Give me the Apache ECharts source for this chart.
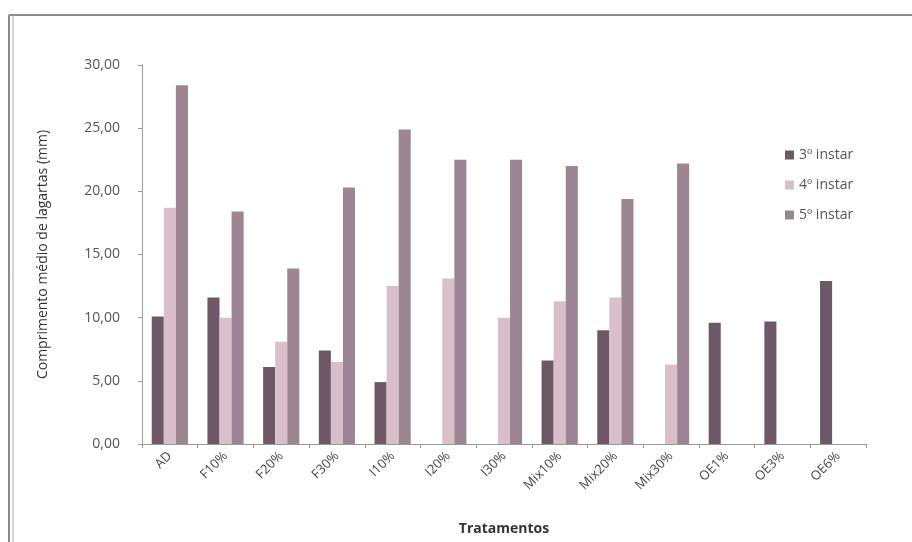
<!DOCTYPE html>
<html><head><meta charset="utf-8">
<script src="https://cdn.jsdelivr.net/npm/echarts@6/dist/echarts.min.js"></script>
<style>html,body{margin:0;padding:0;background:#fff}#c{width:912px;height:542px}</style>
</head><body><div id="c"></div>
<script>
const categories = ['AD','F10%','F20%','F30%','I10%','I20%','I30%','Mix10%','Mix20%','Mix30%','OE1%','OE3%','OE6%'];
const instar3 = [10.1, 11.6, 6.1, 7.4, 4.9, 0, 0, 6.6, 9.0, 0, 9.6, 9.7, 12.9];
const instar4 = [18.7, 10.0, 8.1, 6.5, 12.5, 13.1, 10.0, 11.3, 11.6, 6.3, 0, 0, 0];
const instar5 = [28.4, 18.4, 13.9, 20.3, 24.9, 22.5, 22.5, 22.0, 19.4, 22.2, 0, 0, 0];
const seriesNames = ['3º instar','4º instar','5º instar'];
const yTicks = [0, 5, 10, 15, 20, 25, 30];

const chart = echarts.init(document.getElementById('c'));
const font = '"Open Sans", "DejaVu Sans", sans-serif';
const colors = ['#6e5868', '#d9bfc9', '#9d8593'];
chart.setOption({
  animation: false,
  backgroundColor: '#fff',
  color: colors,
  textStyle: {fontFamily: font},
  grid: {left: 142, right: 46, top: 65, bottom: 98},
  legend: {
    orient: 'vertical', left: 780, top: 143, itemWidth: 9, itemHeight: 9, itemGap: 16,
    icon: 'rect',
    textStyle: {fontSize: 14, color: '#555', fontFamily: font},
    data: seriesNames
  },
  xAxis: {
    type: 'category', data: categories,
    name: 'Tratamentos', nameLocation: 'middle', nameGap: 78,
    nameTextStyle: {fontSize: 14, color: '#333', fontWeight: 'bold', fontFamily: font},
    axisLine: {lineStyle: {color: '#999'}},
    axisTick: {show: true, alignWithLabel: false, length: 4, lineStyle: {color: '#999'}},
    axisLabel: {rotate: 45, fontSize: 13, color: '#444', margin: 10, interval: 0, fontFamily: font}
  },
  yAxis: {
    type: 'value', min: 0, max: 30, interval: 5,
    name: 'Comprimento médio de lagartas (mm)', nameLocation: 'middle', nameGap: 92,
    nameTextStyle: {fontSize: 14, color: '#333', fontFamily: font},
    axisLine: {show: true, lineStyle: {color: '#999'}},
    axisTick: {show: true, length: 4, lineStyle: {color: '#999'}},
    splitLine: {show: false},
    axisLabel: {fontSize: 14, color: '#555', margin: 22, fontFamily: font,
      formatter: v => yTicks.includes(v) ? v.toFixed(2).replace('.', ',') : ''}
  },
  series: [
    {name: seriesNames[0], type: 'bar', data: instar3, barGap: '0%', barCategoryGap: '35%'},
    {name: seriesNames[1], type: 'bar', data: instar4, barGap: '0%', barCategoryGap: '35%'},
    {name: seriesNames[2], type: 'bar', data: instar5, barGap: '0%', barCategoryGap: '35%'}
  ],
  graphic: [
    {type: 'line', shape: {x1: 9, y1: 15, x2: 912, y2: 15}, style: {stroke: '#8a8a8a', lineWidth: 2}},
    {type: 'line', shape: {x1: 9, y1: 15, x2: 9, y2: 542}, style: {stroke: '#8a8a8a', lineWidth: 2}},
    {type: 'line', shape: {x1: 13, y1: 15, x2: 13, y2: 542}, style: {stroke: '#aaa', lineWidth: 1}}
  ]
});
</script></body></html>
